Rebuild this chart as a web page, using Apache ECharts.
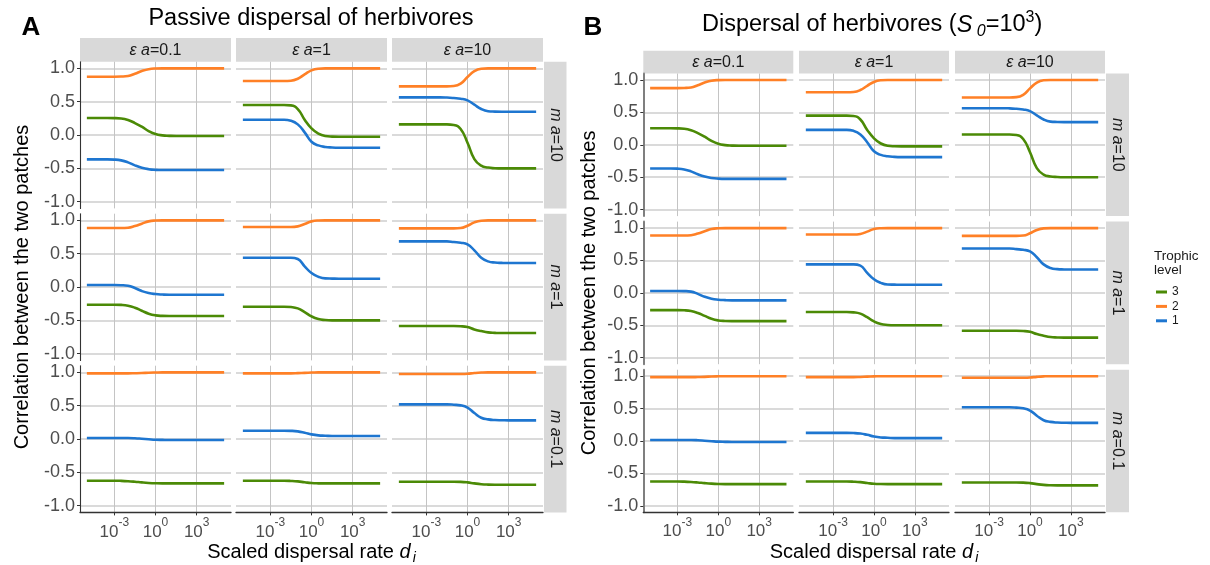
<!DOCTYPE html>
<html><head><meta charset="utf-8">
<script src="https://cdn.jsdelivr.net/npm/echarts@6/dist/echarts.min.js"></script>
<style>html,body{margin:0;padding:0;background:#fff}#c{width:1210px;height:565px}</style>
</head><body><div id="c"></div>
<script>
// ---- axis / category data ----
// log10 of the scaled dispersal rate, sampled every half decade
const logD = [-5, -4.5, -4, -3.5, -3, -2.5, -2, -1.5, -1, -0.5, 0, 0.5, 1, 1.5, 2, 2.5, 3, 3.5, 4, 4.5, 5];
const xTicks = [-3, 0, 3];
const yTicks = [-1, -0.5, 0, 0.5, 1];
const eaValues = ['0.1', '1', '10'];
const maValues = ['10', '1', '0.1'];
const levels = ['3', '2', '1'];

// ---- correlation values (trophic level 3, 2, 1) ----
// ma = 10
const ma10_ea01_L3 = [0.255, 0.255, 0.255, 0.255, 0.254, 0.248, 0.225, 0.18, 0.125, 0.06, 0.015, -0.005, -0.012, -0.015, -0.015, -0.015, -0.015, -0.015, -0.015, -0.015, -0.015];
const ma10_ea01_L2 = [0.875, 0.875, 0.875, 0.875, 0.875, 0.877, 0.885, 0.92, 0.96, 0.988, 0.998, 1, 1, 1, 1, 1, 1, 1, 1, 1, 1];
const ma10_ea01_L1 = [-0.365, -0.365, -0.365, -0.365, -0.368, -0.38, -0.41, -0.455, -0.49, -0.512, -0.522, -0.525, -0.525, -0.525, -0.525, -0.525, -0.525, -0.525, -0.525, -0.525, -0.525];
const ma10_ea1_L3  = [0.45, 0.45, 0.45, 0.45, 0.45, 0.45, 0.45, 0.445, 0.39, 0.23, 0.1, 0.02, -0.015, -0.023, -0.025, -0.025, -0.025, -0.025, -0.025, -0.025, -0.025];
const ma10_ea1_L2  = [0.81, 0.81, 0.81, 0.81, 0.81, 0.81, 0.81, 0.815, 0.845, 0.91, 0.97, 0.995, 1, 1, 1, 1, 1, 1, 1, 1, 1];
const ma10_ea1_L1  = [0.23, 0.23, 0.23, 0.23, 0.23, 0.23, 0.23, 0.215, 0.16, 0.04, -0.1, -0.155, -0.178, -0.187, -0.19, -0.19, -0.19, -0.19, -0.19, -0.19, -0.19];
const ma10_ea10_L3 = [0.16, 0.16, 0.16, 0.16, 0.16, 0.16, 0.16, 0.16, 0.152, 0.09, -0.115, -0.36, -0.46, -0.488, -0.497, -0.5, -0.5, -0.5, -0.5, -0.5, -0.5];
const ma10_ea10_L2 = [0.73, 0.73, 0.73, 0.73, 0.73, 0.73, 0.73, 0.73, 0.735, 0.77, 0.87, 0.96, 0.995, 1, 1, 1, 1, 1, 1, 1, 1];
const ma10_ea10_L1 = [0.565, 0.565, 0.565, 0.565, 0.565, 0.565, 0.565, 0.562, 0.555, 0.545, 0.52, 0.455, 0.39, 0.358, 0.352, 0.35, 0.35, 0.35, 0.35, 0.35, 0.35];
// ma = 1
const ma1_ea01_L3 = [-0.265, -0.265, -0.265, -0.265, -0.265, -0.268, -0.28, -0.31, -0.355, -0.4, -0.425, -0.433, -0.435, -0.435, -0.435, -0.435, -0.435, -0.435, -0.435, -0.435, -0.435];
const ma1_ea01_L2 = [0.885, 0.885, 0.885, 0.885, 0.885, 0.885, 0.89, 0.915, 0.95, 0.985, 0.997, 1, 1, 1, 1, 1, 1, 1, 1, 1, 1];
const ma1_ea01_L1 = [0.03, 0.03, 0.03, 0.03, 0.03, 0.028, 0.02, -0.015, -0.06, -0.09, -0.105, -0.112, -0.115, -0.115, -0.115, -0.115, -0.115, -0.115, -0.115, -0.115, -0.115];
const ma1_ea1_L3  = [-0.295, -0.295, -0.295, -0.295, -0.295, -0.295, -0.295, -0.3, -0.32, -0.375, -0.44, -0.48, -0.495, -0.5, -0.5, -0.5, -0.5, -0.5, -0.5, -0.5, -0.5];
const ma1_ea1_L2  = [0.9, 0.9, 0.9, 0.9, 0.9, 0.9, 0.9, 0.9, 0.91, 0.945, 0.985, 0.998, 1, 1, 1, 1, 1, 1, 1, 1, 1];
const ma1_ea1_L1  = [0.44, 0.44, 0.44, 0.44, 0.44, 0.44, 0.44, 0.44, 0.42, 0.31, 0.21, 0.155, 0.13, 0.127, 0.125, 0.125, 0.125, 0.125, 0.125, 0.125, 0.125];
const ma1_ea10_L3 = [-0.585, -0.585, -0.585, -0.585, -0.585, -0.585, -0.585, -0.585, -0.585, -0.588, -0.6, -0.635, -0.66, -0.68, -0.687, -0.69, -0.69, -0.69, -0.69, -0.69, -0.69];
const ma1_ea10_L2 = [0.88, 0.88, 0.88, 0.88, 0.88, 0.88, 0.88, 0.88, 0.88, 0.885, 0.92, 0.97, 0.995, 1, 1, 1, 1, 1, 1, 1, 1];
const ma1_ea10_L1 = [0.685, 0.685, 0.685, 0.685, 0.685, 0.685, 0.685, 0.685, 0.675, 0.665, 0.64, 0.55, 0.44, 0.385, 0.367, 0.362, 0.36, 0.36, 0.36, 0.36, 0.36];
// ma = 0.1
const ma01_ea01_L3 = [-0.625, -0.625, -0.625, -0.625, -0.625, -0.627, -0.632, -0.64, -0.65, -0.658, -0.663, -0.665, -0.665, -0.665, -0.665, -0.665, -0.665, -0.665, -0.665, -0.665, -0.665];
const ma01_ea01_L2 = [0.985, 0.985, 0.985, 0.985, 0.985, 0.985, 0.985, 0.987, 0.99, 0.995, 0.998, 1, 1, 1, 1, 1, 1, 1, 1, 1, 1];
const ma01_ea01_L1 = [0.015, 0.015, 0.015, 0.015, 0.015, 0.015, 0.015, 0.012, 0.005, -0.003, -0.01, -0.013, -0.015, -0.015, -0.015, -0.015, -0.015, -0.015, -0.015, -0.015, -0.015];
const ma01_ea1_L3  = [-0.625, -0.625, -0.625, -0.625, -0.625, -0.625, -0.625, -0.628, -0.635, -0.648, -0.66, -0.664, -0.665, -0.665, -0.665, -0.665, -0.665, -0.665, -0.665, -0.665, -0.665];
const ma01_ea1_L2  = [0.985, 0.985, 0.985, 0.985, 0.985, 0.985, 0.985, 0.985, 0.988, 0.993, 0.997, 1, 1, 1, 1, 1, 1, 1, 1, 1, 1];
const ma01_ea1_L1  = [0.125, 0.125, 0.125, 0.125, 0.125, 0.125, 0.125, 0.123, 0.115, 0.095, 0.07, 0.055, 0.05, 0.045, 0.045, 0.045, 0.045, 0.045, 0.045, 0.045, 0.045];
const ma01_ea10_L3 = [-0.64, -0.64, -0.64, -0.64, -0.64, -0.64, -0.64, -0.64, -0.64, -0.642, -0.65, -0.665, -0.677, -0.683, -0.685, -0.685, -0.685, -0.685, -0.685, -0.685, -0.685];
const ma01_ea10_L2 = [0.975, 0.975, 0.975, 0.975, 0.975, 0.975, 0.975, 0.975, 0.975, 0.976, 0.98, 0.99, 0.997, 1, 1, 1, 1, 1, 1, 1, 1];
const ma01_ea10_L1 = [0.52, 0.52, 0.52, 0.52, 0.52, 0.52, 0.52, 0.52, 0.515, 0.505, 0.47, 0.39, 0.32, 0.295, 0.285, 0.282, 0.28, 0.28, 0.28, 0.28, 0.28];

// facet grid [row(ma)][col(ea)] -> [L3, L2, L1]
const dataA = [
  [[ma10_ea01_L3, ma10_ea01_L2, ma10_ea01_L1], [ma10_ea1_L3, ma10_ea1_L2, ma10_ea1_L1], [ma10_ea10_L3, ma10_ea10_L2, ma10_ea10_L1]],
  [[ma1_ea01_L3, ma1_ea01_L2, ma1_ea01_L1], [ma1_ea1_L3, ma1_ea1_L2, ma1_ea1_L1], [ma1_ea10_L3, ma1_ea10_L2, ma1_ea10_L1]],
  [[ma01_ea01_L3, ma01_ea01_L2, ma01_ea01_L1], [ma01_ea1_L3, ma01_ea1_L2, ma01_ea1_L1], [ma01_ea10_L3, ma01_ea10_L2, ma01_ea10_L1]]
];
const dataB = dataA; // panel B shows the same curves

const levelColors = {'3': '#4B8A06', '2': '#FF8026', '1': '#1E76D0'};
const FF = "'Liberation Sans', Arial, Helvetica, sans-serif";

const panels = [
  {colLeft: [80, 236, 392], colW: 151, rowTop: [61.7, 213.7, 365.7], rowH: 146.7,
   stripTop: 38, stripH: 23.7, rStripLeft: 544, rStripW: 22.5, yAxisColor: '#333', yAxisWidth: 1.1,
   data: dataA, letter: 'A', letterX: 31,
   title: 'Passive dispersal of herbivores', titleX: 311, titleY: 18.5,
   yTitleX: 22.5, xTitleX: 311.5},
  {colLeft: [643.3, 799, 955], colW: 150, rowTop: [73.5, 221.6, 369.7], rowH: 142.6,
   stripTop: 50.7, stripH: 22.8, rStripLeft: 1106, rStripW: 23, yAxisColor: '#7f7f7f', yAxisWidth: 2,
   data: dataB, letter: 'B', letterX: 593,
   title: null, titleX: 702, titleY: 25,
   yTitleX: 589, xTitleX: 874}
];

const option = {
  animation: false,
  backgroundColor: '#fff',
  textStyle: {fontFamily: FF},
  grid: [], xAxis: [], yAxis: [], series: [],
  legend: {
    data: levels, orient: 'vertical', left: 1156, top: 286, padding: 0,
    icon: 'rect', itemWidth: 11, itemHeight: 3, itemGap: 2.4, selectedMode: false,
    textStyle: {fontSize: 12, lineHeight: 12, color: '#1a1a1a', fontFamily: FF}
  },
  graphic: {elements: []}
};
const G = option.graphic.elements;

panels.forEach((P) => {
  for (let r = 0; r < 3; r++) {
    for (let c = 0; c < 3; c++) {
      const gi = option.grid.length;
      option.grid.push({left: P.colLeft[c], top: P.rowTop[r], width: P.colW, height: P.rowH,
        show: false, containLabel: false, outerBoundsMode: 'none'});
      option.xAxis.push({
        type: 'value', gridIndex: gi, min: -5.5, max: 5.5,
        axisLine: {show: r === 2, onZero: false, lineStyle: {color: '#333', width: 1.3}},
        axisTick: {show: r === 2, customValues: xTicks, length: 3, lineStyle: {color: '#333', width: 1}},
        axisLabel: {show: r === 2, customValues: xTicks, margin: 4,
          formatter: (v) => '{b|10}{s|' + v + '}',
          rich: {
            b: {fontSize: 17, lineHeight: 24, verticalAlign: 'bottom', color: '#4d4d4d', fontFamily: FF},
            s: {fontSize: 12, lineHeight: 12, verticalAlign: 'top', color: '#4d4d4d', fontFamily: FF}
          }},
        splitLine: {show: true, lineStyle: {color: '#c4c4c4', width: 1}}
      });
      option.yAxis.push({
        type: 'value', gridIndex: gi, min: -1.1, max: 1.1,
        axisLine: {show: c === 0, onZero: false, lineStyle: {color: P.yAxisColor, width: P.yAxisWidth}},
        axisTick: {show: c === 0, customValues: yTicks, length: 3, lineStyle: {color: '#333', width: 1}},
        axisLabel: {show: c === 0, customValues: yTicks, margin: 5, fontSize: 18, color: '#4d4d4d',
          fontFamily: FF, formatter: (v) => v.toFixed(1)},
        splitLine: {show: true, lineStyle: {color: '#dadada', width: 1.8}}
      });
      levels.forEach((lv, k) => {
        const vals = P.data[r][c][k];
        option.series.push({
          type: 'line', name: lv, xAxisIndex: gi, yAxisIndex: gi,
          data: logD.map((x, i) => [x, vals[i]]),
          showSymbol: false, symbol: 'none', smooth: 0.5,
          lineStyle: {color: levelColors[lv], width: 2.6, cap: 'butt', join: 'round'}, itemStyle: {color: levelColors[lv]},
          silent: true, z: 3
        });
      });
    }
    // right strip (ma)
    G.push({type: 'rect', silent: true, shape: {x: P.rStripLeft, y: P.rowTop[r], width: P.rStripW, height: P.rowH},
      style: {fill: '#d9d9d9'}});
    G.push({type: 'text', silent: true, x: P.rStripLeft + P.rStripW / 2, y: P.rowTop[r] + P.rowH / 2,
      rotation: -Math.PI / 2,
      style: {text: '{i|m a}{n|=' + maValues[r] + '}', align: 'center', verticalAlign: 'middle',
        rich: {i: {fontStyle: 'italic', fontSize: 16, fill: '#1a1a1a', fontFamily: FF},
               n: {fontSize: 16, fill: '#1a1a1a', fontFamily: FF}}}});
  }
  // column strips (ea)
  for (let c = 0; c < 3; c++) {
    G.push({type: 'rect', silent: true, shape: {x: P.colLeft[c], y: P.stripTop, width: P.colW, height: P.stripH},
      style: {fill: '#d9d9d9'}});
    G.push({type: 'text', silent: true, x: P.colLeft[c] + P.colW / 2, y: P.stripTop + P.stripH / 2 + 0.5,
      style: {text: '{i|ε a}{n|=' + eaValues[c] + '}', align: 'center', verticalAlign: 'middle',
        rich: {i: {fontStyle: 'italic', fontSize: 16, fill: '#1a1a1a', fontFamily: FF},
               n: {fontSize: 16, fill: '#1a1a1a', fontFamily: FF}}}});
  }
  // panel letter
  G.push({type: 'text', silent: true, x: P.letterX, y: 27.5,
    style: {text: P.letter, align: 'center', verticalAlign: 'middle', fontSize: 26, fontWeight: 'bold',
      fill: '#000', fontFamily: FF}});
  // y title
  const midY = (P.rowTop[0] + P.rowTop[2] + P.rowH) / 2;
  G.push({type: 'text', silent: true, x: P.yTitleX, y: midY, rotation: Math.PI / 2,
    style: {text: 'Correlation between the two patches', align: 'center', verticalAlign: 'middle',
      fontSize: 20, fill: '#000', fontFamily: FF}});
  // x title
  G.push({type: 'text', silent: true, x: P.xTitleX, y: 552,
    style: {text: '{n|Scaled dispersal rate }{d|d}{sub|i}', align: 'center', verticalAlign: 'middle',
      rich: {n: {fontSize: 20, lineHeight: 26, verticalAlign: 'middle', fill: '#000', fontFamily: FF},
             d: {fontSize: 20, lineHeight: 26, verticalAlign: 'middle', fontStyle: 'italic', fill: '#000', fontFamily: FF},
             sub: {fontSize: 14, lineHeight: 14, verticalAlign: 'bottom', fontStyle: 'italic', fill: '#000', fontFamily: FF, padding: [0, 0, 0, 2]}}}});
});

// main titles
G.push({type: 'text', silent: true, x: panels[0].titleX, y: panels[0].titleY,
  style: {text: panels[0].title, align: 'center', verticalAlign: 'middle', fontSize: 23.5, fill: '#000', fontFamily: FF}});
G.push({type: 'text', silent: true, x: panels[1].titleX, y: panels[1].titleY,
  style: {text: '{n|Dispersal of herbivores (}{i|S}{sub| 0}{n|=10}{sup|3}{n|)}', align: 'left', verticalAlign: 'middle',
    rich: {n: {fontSize: 23.5, lineHeight: 30, verticalAlign: 'middle', fill: '#000', fontFamily: FF},
           i: {fontSize: 23.5, lineHeight: 30, verticalAlign: 'middle', fontStyle: 'italic', fill: '#000', fontFamily: FF},
           sub: {fontSize: 16, lineHeight: 16, verticalAlign: 'bottom', fontStyle: 'italic', fill: '#000', fontFamily: FF},
           sup: {fontSize: 16, lineHeight: 16, verticalAlign: 'top', fill: '#000', fontFamily: FF}}}});
// legend title
G.push({type: 'text', silent: true, x: 1154, y: 249,
  style: {text: 'Trophic\nlevel', align: 'left', verticalAlign: 'top', fontSize: 13.5, lineHeight: 14.3,
    fill: '#1a1a1a', fontFamily: FF}});

const chart = echarts.init(document.getElementById('c'));
chart.setOption(option);
</script></body></html>
